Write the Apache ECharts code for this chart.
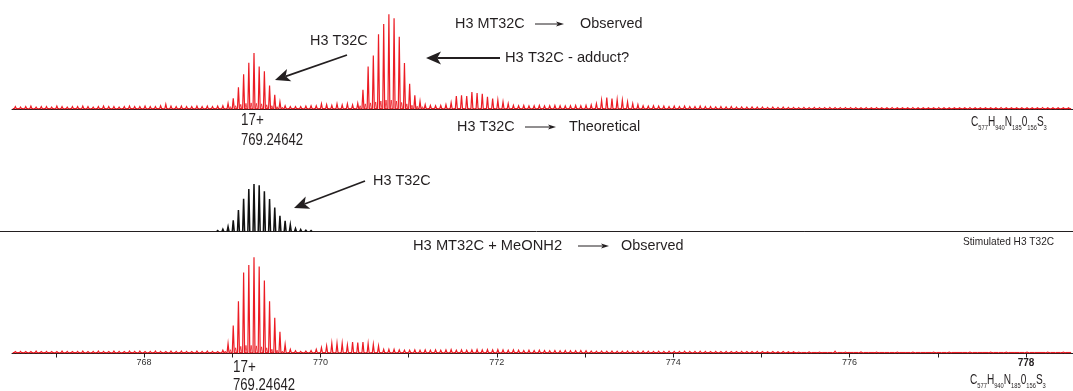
<!DOCTYPE html>
<html>
<head>
<meta charset="utf-8">
<script src="https://cdn.jsdelivr.net/npm/echarts@6/dist/echarts.min.js"></script>
<style>
  html, body { margin: 0; padding: 0; background: #ffffff; }
  #chart { width: 1073px; height: 391px; }
</style>
</head>
<body>
<div id="chart"></div>
<script>
// ---------------- DATA ----------------
// Isotope ladder of the 17+ ion: peak k sits at LADDER_START + k * ISOTOPE_STEP (m/z)
const ISOTOPE_STEP = 1 / 17;
const LADDER_START = 766.541;

// Top panel: H3 MT32C, observed (relative intensity, %)
const observedTop = [
  2,1.5,2,2.5,1.5,2,2,1.5,2.5,2,1.5,2,2,2.5,2,1.5,2,2.5,2,2,1.5,2,2.5,2,2,2.5,2,2,3,
  4.5,
  2.5,2,2.5,2,2,2.5,2,2.5,2,2.5,
  3,5.5,
  11,22.5,36.5,48.5,59,44.5,39.5,24.5,14.5,7,
  3,2,2,2,2.5,3,3,5,4.2,3.5,5,4,5,4,5.6,
  20,44.7,56.3,78.9,89.8,100,95.8,76.3,48.3,26.4,14,7.7,4.2,
  3.2,3,
  3.2,4.2,6.3,13.4,14,13.4,17.5,16.5,15.8,12.4,10.6,8.8,7,5.3,
  3.5,3,3.2,2.8,3,3.2,2.8,3,3.2,3,2.8,3,3.2,3,3.5,4,
  5.3,8.8,11.6,10.6,9.5,8.8,7,5.3,4.2,
  3,2.5,3,2.5,2.5,2,2.5,2,2.5,2,2,2.5,2,2,1.8,2,1.8,2,1.5,1.8,
  1.5,1.8,1.5,1.5,1.2,1.5,1.2,1.5,1.2,1.2,1,1.2,1,1.2,1,1,1.2,1,1,1,
  1,1,0.8,1,0.8,1,0.8,0.8,1,0.8,0.8,0.8,1,0.8,0.8,0.8,0.8,1,0.8,0.8,
  0.8,0.8,0.8,1,0.8,0.8,0.8,0.8,0.8,1,0.8,0.8,0.8,0.8,0.8,0.8,0.8,1,0.8,0.8,0.8,0.8,0.8
];
// small satellite peaks between the main isotope peaks (top panel)
const satelliteTopA = [2,3,4.5,5.5,6,5.5,5,4,3,2,1.5];
const satelliteTopAStart = 41.45;
const satelliteTopB = [3,5,6,7,8,9,9,8,6.5,5,3.5,2.5,2];
const satelliteTopBStart = 66.45;

// Middle panel: H3 T32C, theoretical
const theoretical = [2.1,4.9,9.9,23.3,45,69.1,89.4,100,97.3,84.6,68.3,50.7,33.2,22.6,14.2,6.3,4.2,2.7,2.1];
const theoreticalStart = 39;

// Bottom panel: H3 MT32C + MeONH2, observed
const observedBottom = [
  1,1.2,1,1,1.5,1,1.2,1,1,1.5,1.2,1,1.2,1.5,1,1.2,1.5,1.2,1,1.5,1.2,1,1.5,1.2,1.5,1,1.2,1.5,1.2,1,1.5,1.2,1.5,1.2,1,1.5,1.2,1.5,1.2,
  1,2.4,9.4,28.4,53.9,84.1,92,100,90.3,75.7,53.9,36.5,21.9,8.6,3.4,1.8,
  1.2,1.5,2,
  3.4,5.2,7,9.7,9.7,9.7,8,11.1,10.4,11.1,9.4,8.6,7,3.4,3.4,3.4,2.8,2.4,2.4,
  2.8,2.4,2.8,2.4,2.8,2.4,2.8,3,2.4,2.8,2.4,2.8,3,2.8,3.1,2.8,3.1,2.8,2.4,2.8,2.4,2.1,2.4,2.1,2.4,2.1,1.8,2.1,1.8,2.1,1.8,1.8,2.1,1.8,
  1.6,1.4,1.6,1.4,1.6,1.4,1.4,1.6,1.4,1.4,1.6,1.4,1.2,1.4,1.2,1.4,1.2,1.2,1.4,1.2,1.2,1.4,1.2,1,1.2,1,1.2,1,1,1.2,1,1,1.2,1,0.8,1,0.8,1,0.8,0.8,
  0.5,0,0.6,0,0.5,0,0,1.4,0,0.5,0,0,0.6,0,0,0.5,0,0,0,0.5,0,0,0.5,0,0,0,0.5,0,0,0.5,0,0,0,0.5,0,0,0,0.5,0,0,0.5,0,0,0,0.5,0,0,0,0.5,0,0,0.5,0
];
const satelliteBottom = [1.5,3,5,6.5,7.5,7.5,7,6,5,3.5,2.5,1.5];
const satelliteBottomStart = 40.45;

// axis ticks / labels (m/z)
const tickValues = [767,768,769,770,771,772,773,774,775,776,777,778];
const labelValues = [768,770,772,774,776,778];

// ---------------- BUILD ----------------
const RED = '#ec1c24';
const INK = '#231f20';
const FONT = "'Liberation Sans', Arial, Helvetica, sans-serif";
const HALF_W = 0.011;

function ladder(values, start) {
  return values.map((v, i) => [LADDER_START + (start + i) * ISOTOPE_STEP, v]);
}

function peakRenderer(color, withBase, lw) {
  return function (params, api) {
    const mz = api.value(0), v = api.value(1);
    const pts = [];
    if (withBase) pts.push(api.coord([mz - ISOTOPE_STEP / 2, 0]));
    pts.push(api.coord([mz - HALF_W, 0]));
    pts.push(api.coord([mz, v]));
    pts.push(api.coord([mz + HALF_W, 0]));
    if (withBase) pts.push(api.coord([mz + ISOTOPE_STEP / 2, 0]));
    return { type: 'polyline', shape: { points: pts }, style: { stroke: color, lineWidth: lw, fill: null } };
  };
}

function txt(x, y, s, size, sx, extra) {
  return {
    type: 'text', x: x, y: y, scaleX: sx || 1, silent: true,
    style: Object.assign({ text: s, fontSize: size, fontFamily: FONT, fill: INK, align: 'left', verticalAlign: 'middle' }, extra || {})
  };
}

function arrow(x1, y1, x2, y2, hl, hw, lw) {
  const dx = x2 - x1, dy = y2 - y1, L = Math.hypot(dx, dy), ux = dx / L, uy = dy / L;
  const bx = x2 - ux * hl, by = y2 - uy * hl, px = -uy, py = ux;
  const nx = bx + ux * hl * 0.25, ny = by + uy * hl * 0.25;
  return [
    { type: 'line', silent: true, shape: { x1: x1, y1: y1, x2: nx, y2: ny }, style: { stroke: INK, lineWidth: lw } },
    { type: 'polygon', silent: true, shape: { points: [[x2, y2], [bx + px * hw, by + py * hw], [nx, ny], [bx - px * hw, by - py * hw]] }, style: { fill: INK } }
  ];
}

function formula(x, y) {
  return txt(x, y, '{m|C}{s|577}{m|H}{s|940}{m|N}{s|185}{m|0}{s|156}{m|S}{s|3}', 14, 0.72, {
    rich: {
      m: { fontSize: 14, fontFamily: FONT, fill: INK, verticalAlign: 'bottom' },
      s: { fontSize: 8, fontFamily: FONT, fill: INK, verticalAlign: 'bottom', padding: [0, 0, -3, 0] }
    }
  });
}

const xMin = 766.503, xMax = 778.533, xMinMid = 766.367;

const baseX = {
  type: 'value', max: xMax,
  axisLine: { show: true, onZero: false, lineStyle: { color: INK, width: 1 } },
  axisTick: { show: false }, axisLabel: { show: false }, splitLine: { show: false }
};

const option = {
  animation: false,
  backgroundColor: '#ffffff',
  grid: [
    { left: 12, right: 0, top: 14.3, height: 95.2 },
    { left: 0, right: 0, top: 184, height: 47.5 },
    { left: 12, right: 0, top: 257.3, height: 96.2 }
  ],
  xAxis: [
    Object.assign({}, baseX, { gridIndex: 0, min: xMin }),
    Object.assign({}, baseX, { gridIndex: 1, min: xMinMid }),
    Object.assign({}, baseX, {
      gridIndex: 2, min: xMin,
      axisTick: { show: true, customValues: tickValues, length: 4, lineStyle: { color: INK, width: 1 } },
      axisLabel: {
        show: true, customValues: labelValues, fontSize: 9, color: '#333', fontFamily: FONT, margin: 5,
        formatter: v => (v === 778 ? '{b|778}' : String(v)),
        rich: { b: { fontSize: 10, fontWeight: 'bold', color: INK, fontFamily: FONT } }
      }
    })
  ],
  yAxis: [
    { type: 'value', gridIndex: 0, min: -1, max: 100, show: false },
    { type: 'value', gridIndex: 1, min: 0, max: 100, show: false },
    { type: 'value', gridIndex: 2, min: -1, max: 100, show: false }
  ],
  series: [
    { type: 'custom', xAxisIndex: 0, yAxisIndex: 0, renderItem: peakRenderer(RED, true, 1.2), data: ladder(observedTop, 0), silent: true },
    { type: 'custom', xAxisIndex: 0, yAxisIndex: 0, renderItem: peakRenderer(RED, false, 0.8), data: ladder(satelliteTopA, satelliteTopAStart), silent: true },
    { type: 'custom', xAxisIndex: 0, yAxisIndex: 0, renderItem: peakRenderer(RED, false, 0.8), data: ladder(satelliteTopB, satelliteTopBStart), silent: true },
    { type: 'custom', xAxisIndex: 1, yAxisIndex: 1, renderItem: peakRenderer('#111111', false, 1.5), data: ladder(theoretical, theoreticalStart), silent: true },
    { type: 'custom', xAxisIndex: 2, yAxisIndex: 2, renderItem: peakRenderer(RED, true, 1.2), data: ladder(observedBottom, 0), silent: true },
    { type: 'custom', xAxisIndex: 2, yAxisIndex: 2, renderItem: peakRenderer(RED, false, 0.8), data: ladder(satelliteBottom, satelliteBottomStart), silent: true }
  ],
  graphic: [].concat(
    [
      txt(455, 24, 'H3 MT32C', 15, 0.96),
      txt(580, 24, 'Observed', 15, 0.96),
      txt(310, 41, 'H3 T32C', 15, 0.96),
      txt(505, 58, 'H3 T32C - adduct?', 15, 0.98),
      txt(241, 121, '17+', 16, 0.84),
      txt(241, 141, '769.24642', 16, 0.82),
      txt(457, 127, 'H3 T32C', 15, 0.96),
      txt(569, 127, 'Theoretical', 15, 0.96),
      formula(971, 122),
      txt(373, 181, 'H3 T32C', 15, 0.96),
      txt(413, 246, 'H3 MT32C + MeONH2', 15, 0.98),
      txt(621, 246, 'Observed', 15, 0.96),
      txt(963, 242, 'Stimulated H3 T32C', 11.5, 0.88),
      txt(233, 368, '17+', 16, 0.84),
      txt(233, 386, '769.24642', 16, 0.82),
      formula(970, 380)
    ],
    arrow(535, 24, 564, 24, 8, 2.6, 1),
    arrow(525, 127, 556, 127, 8, 2.6, 1),
    arrow(578, 246, 609, 246, 8, 2.6, 1),
    arrow(347, 55, 275, 80, 15, 6.5, 1.8),
    arrow(500, 58, 426, 58, 15, 6.5, 1.8),
    arrow(365, 181, 294, 208, 15, 6.5, 1.8)
  )
};

const chart = echarts.init(document.getElementById('chart'), null, { renderer: 'canvas' });
chart.setOption(option);
</script>
</body>
</html>
